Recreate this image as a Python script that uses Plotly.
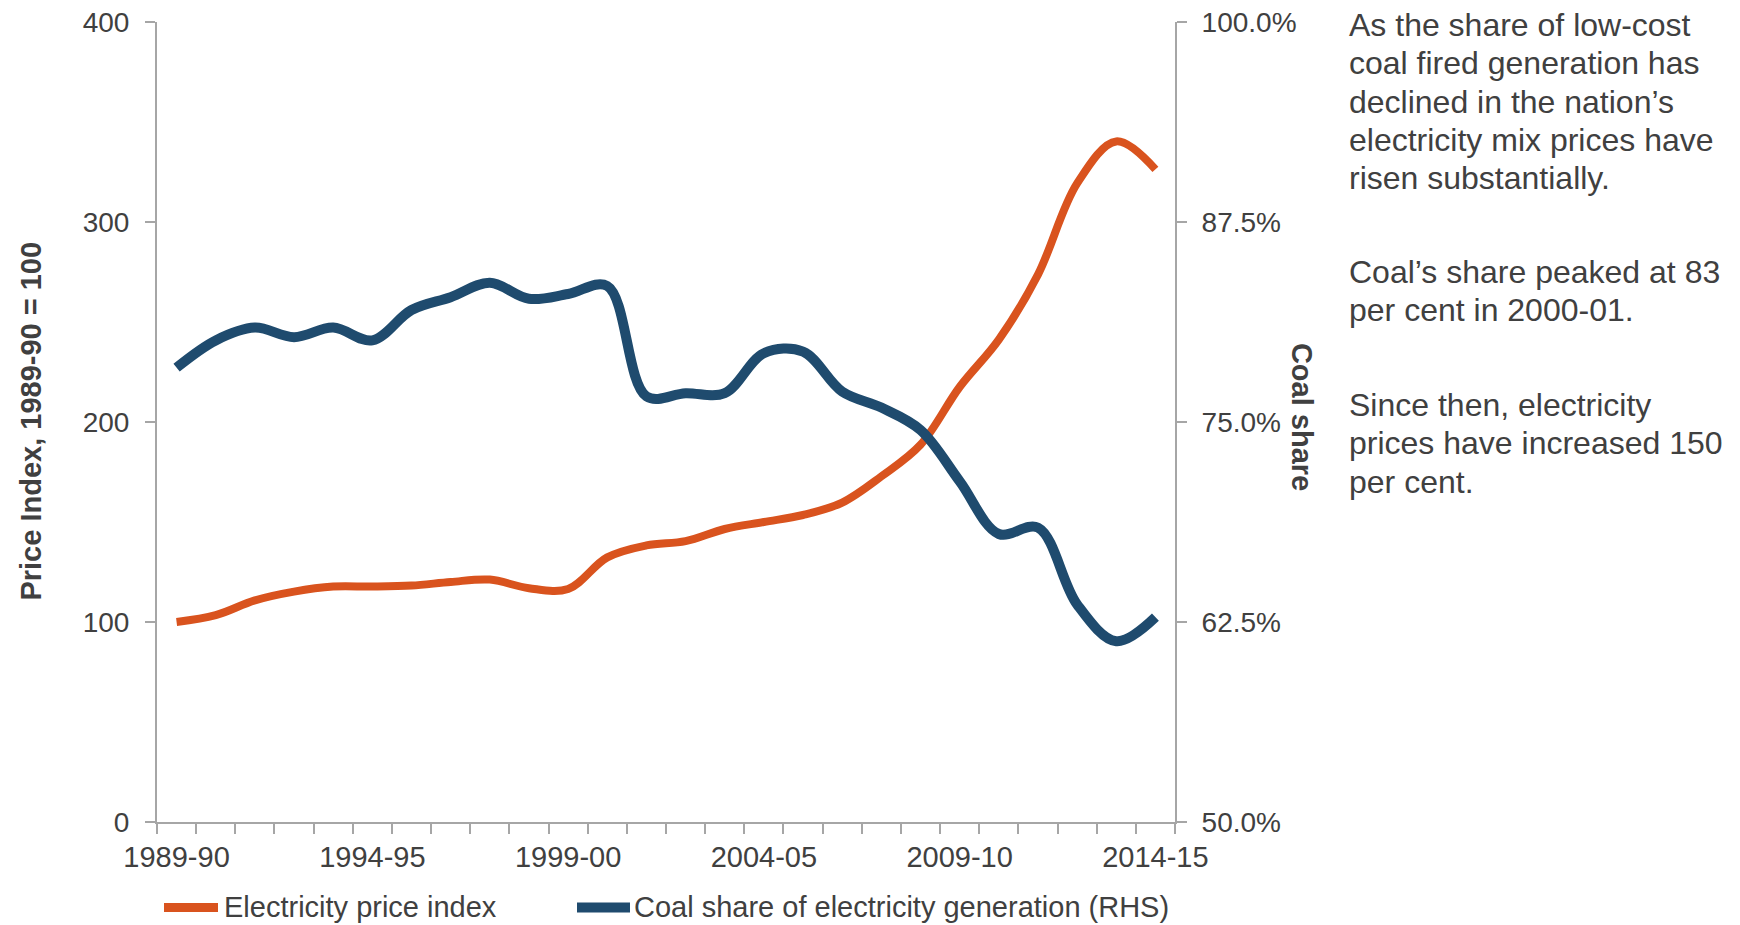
import plotly.graph_objects as go

categories = ["1989-90", "1990-91", "1991-92", "1992-93", "1993-94", "1994-95",
              "1995-96", "1996-97", "1997-98", "1998-99", "1999-00", "2000-01",
              "2001-02", "2002-03", "2003-04", "2004-05", "2005-06", "2006-07",
              "2007-08", "2008-09", "2009-10", "2010-11", "2011-12", "2012-13",
              "2013-14", "2014-15"]

price_index = [100.0, 103.4, 110.8, 115.2, 117.7, 117.7, 118.2, 120.0, 121.2, 116.9,
               116.5, 132.3, 138.3, 140.4, 146.5, 150.0, 153.5, 159.7, 172.8, 188.6,
               217.5, 241.2, 273.7, 319.3, 340.3, 326.3]

coal_share = [78.4, 80.1, 80.9, 80.3, 80.9, 80.1, 82.0, 82.8, 83.7, 82.7,
              83.0, 83.5, 76.6, 76.8, 76.8, 79.3, 79.4, 76.9, 75.9, 74.5,
              71.3, 68.0, 68.4, 63.6, 61.3, 62.8]

series_names = ["Electricity price index", "Coal share of electricity generation (RHS)"]
x_tick_labels = ["1989-90", "1994-95", "1999-00", "2004-05", "2009-10", "2014-15"]
left_ticks = [0, 100, 200, 300, 400]
right_ticks = [50, 62.5, 75, 87.5, 100]
right_tick_labels = ["50.0%", "62.5%", "75.0%", "87.5%", "100.0%"]

note_lines = [
    "As the share of low-cost",
    "coal fired generation has",
    "declined in the nation\u2019s",
    "electricity mix prices have",
    "risen substantially.",
    "Coal\u2019s share peaked at 83",
    "per cent in 2000-01.",
    "Since then, electricity",
    "prices have increased 150",
    "per cent.",
]
note_y_px = [25, 63, 102, 140, 178, 272, 310, 405, 443, 482]

ORANGE = "#D9531E"
NAVY = "#1F4B6E"
TEXT = "#404040"
AXIS = "#A6A6A6"
FONT = "Liberation Sans, Arial, sans-serif"

# page geometry (the html body adds an 8px margin around the figure)
PAGE_W, PAGE_H, OFF = 1740, 925, 8
W, H = PAGE_W - OFF, PAGE_H - OFF
L, R = 157, 1175          # plot area in page pixels
T, B = 21.7, 822.5
PW, PH = R - L, B - T


def px_x(x):
    return (x - L) / PW


def px_y(y):
    return (B - y) / PH


fig = go.Figure()
fig.add_trace(go.Scatter(
    x=categories, y=price_index, name=series_names[0],
    mode="lines", line=dict(color=ORANGE, width=8, shape="spline", smoothing=1.0),
))
fig.add_trace(go.Scatter(
    x=categories, y=coal_share, name=series_names[1],
    mode="lines", yaxis="y2",
    line=dict(color=NAVY, width=10, shape="spline", smoothing=1.0),
))

xtickfont = dict(family=FONT, size=29, color=TEXT)
ytickfont = dict(family=FONT, size=28, color=TEXT)

fig.update_layout(
    width=W, height=H,
    margin=dict(l=L - OFF, r=W - (R - OFF), t=T - OFF, b=H - (B - OFF), pad=0),
    paper_bgcolor="white", plot_bgcolor="white",
    showlegend=False,
    xaxis=dict(type="category", range=[-0.5, len(categories) - 0.5],
               tickmode="array", tickvals=categories,
               ticktext=[c if c in x_tick_labels else "" for c in categories],
               tickangle=0, automargin=False, ticklabeloverflow="allow",
               tickson="boundaries", ticks="outside", ticklen=10, tickwidth=2,
               tickcolor=AXIS, showline=True, linecolor=AXIS, linewidth=2,
               showgrid=False, zeroline=False, tickfont=xtickfont,
               ticklabelstandoff=8),
    yaxis=dict(range=[0, 400], tickmode="array", tickvals=left_ticks,
               ticks="outside", ticklen=10, tickwidth=2, tickcolor=AXIS,
               showline=True, linecolor=AXIS, linewidth=2, showgrid=False,
               zeroline=False, tickfont=ytickfont, ticklabelstandoff=10,
               automargin=False, ticklabeloverflow="allow"),
    yaxis2=dict(range=[50, 100], overlaying="y", side="right", tickmode="array",
                tickvals=right_ticks, ticktext=right_tick_labels,
                ticks="outside", ticklen=10, tickwidth=2, tickcolor=AXIS,
                showline=True, linecolor=AXIS, linewidth=2, showgrid=False,
                zeroline=False, tickfont=ytickfont, ticklabelstandoff=9,
                automargin=False, ticklabeloverflow="allow"),
)

annotations = [
    dict(text="<b>Price Index, 1989-90 = 100</b>", xref="paper", yref="paper",
         x=px_x(31), y=px_y(421.7), xanchor="center", yanchor="middle", textangle=-90,
         showarrow=False, font=dict(family=FONT, size=29, color=TEXT)),
    dict(text="<b>Coal share</b>", xref="paper", yref="paper",
         x=px_x(1302), y=px_y(417), xanchor="center", yanchor="middle", textangle=90,
         showarrow=False, font=dict(family=FONT, size=29, color=TEXT)),
]
for line, ypx in zip(note_lines, note_y_px):
    annotations.append(dict(text=line, xref="paper", yref="paper",
                            x=px_x(1347), y=px_y(ypx), xanchor="left", yanchor="middle",
                            showarrow=False,
                            font=dict(family=FONT, size=32, color=TEXT)))

# legend drawn as line samples + labels below the chart
legend_y = px_y(908)
legend_items = [(series_names[0], ORANGE, 9, 164, 218, 222),
                (series_names[1], NAVY, 10, 577, 630, 632)]
shapes = []
for name, color, lw, x0, x1, tx in legend_items:
    shapes.append(dict(type="line", xref="paper", yref="paper",
                       x0=px_x(x0), x1=px_x(x1), y0=legend_y, y1=legend_y,
                       line=dict(color=color, width=lw)))
    annotations.append(dict(text=name, xref="paper", yref="paper",
                            x=px_x(tx), y=legend_y, xanchor="left", yanchor="middle",
                            showarrow=False,
                            font=dict(family=FONT, size=29, color=TEXT)))

fig.update_layout(annotations=annotations, shapes=shapes)

fig.write_html("out.html")
